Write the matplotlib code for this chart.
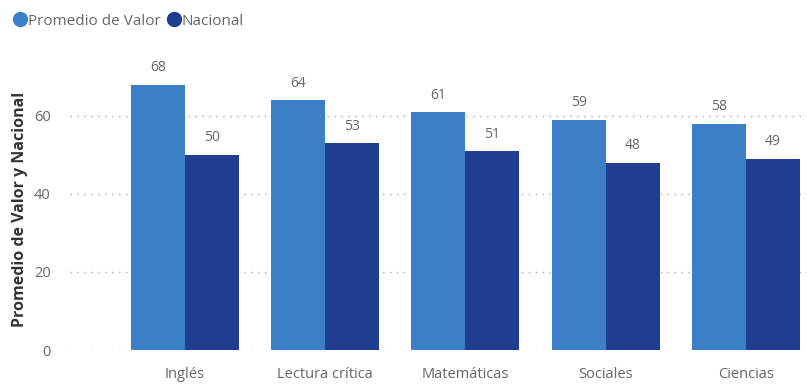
import numpy as np
import matplotlib.pyplot as plt
from matplotlib.lines import Line2D

categorias = ['Inglés', 'Lectura crítica', 'Matemáticas', 'Sociales', 'Ciencias']
promedio_valor = [68, 64, 61, 59, 58]
nacional = [50, 53, 51, 48, 49]

plt.rcParams['font.family'] = ['Open Sans', 'DejaVu Sans']

color_valor = '#3b80c6'
color_nacional = '#1f3e92'
gris = '#666666'

fig = plt.figure(figsize=(8.07, 3.85), dpi=100)
ax = fig.add_axes([0.0867, 0.0909, 0.9133, 0.730])

x = np.arange(len(categorias))
w = 0.385
b1 = ax.bar(x - w/2, promedio_valor, w, color=color_valor, label='Promedio de Valor')
b2 = ax.bar(x + w/2, nacional, w, color=color_nacional, label='Nacional')

# etiquetas de valor encima de cada barra
for barras, vals in ((b1, promedio_valor), (b2, nacional)):
    for rect, v in zip(barras, vals):
        ax.text(rect.get_x() + rect.get_width()/2, v + 2.4, str(v),
                ha='center', va='bottom', fontsize=10, color=gris)

ax.set_xlim(-0.82, 4.435)
ax.set_ylim(0, 72)
ax.set_yticks([0, 20, 40, 60])
ax.set_xticks(x)
ax.set_xticklabels(categorias, fontsize=10.5, color=gris)
ax.tick_params(axis='y', labelsize=10.5, labelcolor=gris, length=0, pad=14)
ax.tick_params(axis='x', length=0, pad=12)
ax.yaxis.grid(True, linestyle=(0, (1, 4)), color='#aaaaaa', linewidth=1)
ax.set_axisbelow(True)
for s in ax.spines.values():
    s.set_visible(False)

ax.set_ylabel('Promedio de Valor y Nacional', fontsize=11.5, fontweight='bold',
              color='#333333', labelpad=4)

# leyenda con marcadores circulares
handles = [Line2D([], [], marker='o', linestyle='', markersize=10, color=c)
           for c in (color_valor, color_nacional)]
fig.legend(handles, ['Promedio de Valor', 'Nacional'], loc='upper left',
           bbox_to_anchor=(0.0, 1.0), ncol=2, frameon=False, fontsize=11,
           labelcolor=gris, handlelength=0.8, handletextpad=0.1, columnspacing=0.5,
           borderaxespad=0.5)

fig.savefig('out.png', dpi=100)
